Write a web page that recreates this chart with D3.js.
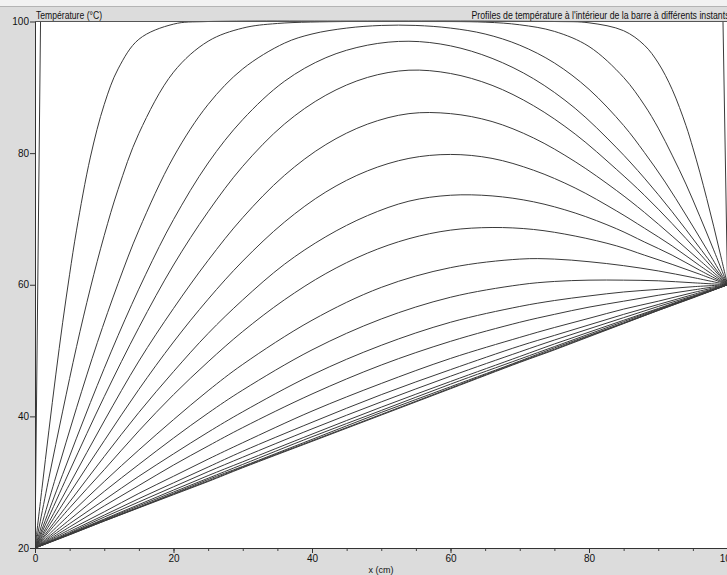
<!DOCTYPE html>
<html>
<head>
<meta charset="utf-8">
<script src="https://cdn.jsdelivr.net/npm/d3@7"></script>
<style>
  body { margin: 0; background: #dcdcdc; }
  svg { display: block; }
  text { font-family: "Liberation Sans", Arial, sans-serif; fill: #111; }
</style>
</head>
<body>
<svg id="chart"></svg>
<script>
const xTicks = [0, 20, 40, 60, 80, 100];
const xMinorTicks = d3.range(0, 101, 5);
const yTicks = [20, 40, 60, 80, 100];

// [x (cm), temperature (°C)], one array per instant
const profile00 = [[0, 20], [0.8, 100], [99.35, 100], [100, 60]];
const profile01 = [[0, 20], [1, 29.0], [2, 37.8], [3, 46.3], [4, 54.3], [5, 61.6], [6, 68.3], [8, 79.4], [10, 87.4], [12, 92.8], [15, 97.3], [20, 99.6], [25, 100], [75, 100], [80, 99.8], [85, 98.6], [88, 96.4], [90, 93.7], [92, 89.7], [94, 84.2], [95, 80.8], [96, 77.1], [97, 73.1], [98, 68.9], [99, 64.5], [100, 60]];
const profile02 = [[0, 20], [2, 30.6], [4, 40.8], [6, 50.6], [8, 59.5], [10, 67.5], [12, 74.5], [15, 83.0], [20, 92.3], [25, 97.0], [30, 99.0], [35, 99.7], [45, 100], [55, 100], [65, 99.9], [70, 99.5], [75, 98.5], [80, 96.2], [85, 91.5], [88, 87.3], [90, 83.8], [92, 79.7], [94, 75.3], [96, 70.4], [98, 65.3], [100, 60]];
const profile03 = [[0, 20], [3, 30.8], [6, 41.3], [9, 51.2], [12, 60.2], [15, 68.3], [20, 79.4], [25, 87.4], [30, 92.8], [36, 96.7], [40, 98.1], [45, 99.0], [50, 99.4], [55, 99.4], [60, 99.0], [65, 98.1], [70, 96.4], [75, 93.7], [80, 89.7], [85, 84.2], [88, 80.1], [91, 75.6], [94, 70.6], [97, 65.4], [100, 60]];
const profile04 = [[0, 20], [4, 31.2], [8, 42.1], [12, 52.3], [16, 61.6], [20, 69.9], [25, 78.5], [30, 85.1], [36, 90.9], [42, 94.5], [48, 96.4], [54, 97.0], [60, 96.3], [66, 94.4], [72, 91.3], [78, 86.8], [84, 80.8], [88, 76.2], [92, 71.1], [96, 65.6], [100, 60]];
const profile05 = [[0, 20], [5, 31.7], [10, 43.0], [15, 53.5], [20, 63.0], [25, 71.1], [30, 78.0], [36, 84.4], [42, 88.8], [48, 91.5], [54, 92.6], [60, 92.1], [66, 90.3], [72, 87.2], [78, 82.9], [84, 77.5], [88, 73.6], [92, 69.3], [96, 64.7], [100, 60]];
const profile06 = [[0, 20], [5, 29.7], [10, 39.3], [15, 48.4], [20, 56.4], [25, 63.7], [30, 70.2], [36, 76.6], [42, 81.3], [48, 84.4], [54, 86.0], [60, 86.0], [66, 84.8], [72, 82.3], [78, 78.7], [84, 74.3], [88, 71.0], [92, 67.4], [96, 63.7], [100, 60]];
const profile07 = [[0, 20], [5, 28.3], [10, 36.3], [15, 44.1], [20, 51.3], [25, 57.8], [30, 63.6], [36, 69.5], [42, 74.1], [48, 77.3], [54, 79.2], [60, 79.8], [66, 79.2], [72, 77.4], [78, 74.7], [84, 71.2], [88, 68.6], [92, 65.9], [96, 62.9], [100, 60]];
const profile08 = [[0, 20], [5, 27.0], [10, 33.9], [15, 40.6], [20, 46.8], [25, 52.6], [30, 57.7], [36, 63.1], [42, 67.3], [48, 70.5], [54, 72.7], [60, 73.6], [66, 73.5], [72, 72.6], [78, 70.9], [84, 68.5], [88, 66.5], [92, 64.5], [96, 62.2], [100, 60]];
const profile09 = [[0, 20], [5, 26.1], [10, 31.9], [15, 37.8], [20, 43.3], [25, 48.3], [30, 52.9], [36, 57.7], [42, 61.7], [48, 64.8], [54, 67.0], [60, 68.3], [66, 68.7], [72, 68.4], [78, 67.4], [84, 65.9], [88, 64.5], [92, 63.1], [96, 61.6], [100, 60]];

// later instants, read on a common set of x positions
const gridX = [0, 5, 10, 15, 20, 25, 30, 40, 50, 60, 70, 75, 80, 85, 90, 95, 100];
const profile10 = [20, 25.1, 30.1, 34.9, 39.5, 43.9, 47.9, 54.6, 59.6, 62.6, 63.9, 63.9, 63.5, 62.9, 62.1, 61.1, 60];
const profile11 = [20, 24.3, 28.6, 32.7, 36.7, 40.5, 44.0, 50.1, 54.8, 58.1, 60.0, 60.5, 60.7, 60.7, 60.6, 60.3, 60];
const profile12 = [20, 23.7, 27.3, 30.9, 34.3, 37.6, 40.7, 46.3, 50.8, 54.3, 56.7, 57.6, 58.3, 58.9, 59.3, 59.7, 60];
const profile13 = [20, 23.2, 26.4, 29.5, 32.6, 35.5, 38.3, 43.4, 47.8, 51.4, 54.3, 55.5, 56.6, 57.5, 58.4, 59.2, 60];
const profile14 = [20, 22.8, 25.5, 28.3, 30.9, 33.5, 36.0, 40.8, 45.0, 48.8, 52.0, 53.5, 54.9, 56.3, 57.5, 58.8, 60];
const profile15 = [20, 22.5, 25.0, 27.5, 29.9, 32.3, 34.7, 39.1, 43.3, 47.1, 50.7, 52.3, 53.9, 55.5, 57.0, 58.5, 60];
const profile16 = [20, 22.3, 24.7, 27.0, 29.3, 31.6, 33.8, 38.1, 42.2, 46.1, 49.8, 51.6, 53.3, 55.0, 56.7, 58.3, 60];
const profile17 = [20, 22.2, 24.4, 26.6, 28.8, 31.0, 33.1, 37.3, 41.4, 45.3, 49.1, 51.0, 52.8, 54.6, 56.4, 58.2, 60];
const profile18 = [20, 22.1, 24.3, 26.4, 28.5, 30.6, 32.7, 36.9, 40.9, 44.9, 48.7, 50.6, 52.5, 54.4, 56.3, 58.1, 60];
const profile19 = [20, 22.1, 24.2, 26.2, 28.3, 30.4, 32.4, 36.5, 40.6, 44.5, 48.4, 50.4, 52.3, 54.2, 56.2, 58.1, 60];
const profile20 = [20, 22.05, 24.1, 26.15, 28.2, 30.2, 32.3, 36.3, 40.3, 44.3, 48.3, 50.2, 52.2, 54.15, 56.1, 58.05, 60];
const profile21 = [20, 22.0, 24.1, 26.1, 28.1, 30.1, 32.2, 36.2, 40.2, 44.2, 48.2, 50.1, 52.1, 54.1, 56.1, 58.0, 60];

const smoothProfiles = [profile01, profile02, profile03, profile04, profile05,
  profile06, profile07, profile08, profile09]
  .concat([profile10, profile11, profile12, profile13, profile14, profile15,
    profile16, profile17, profile18, profile19, profile20, profile21]
    .map(vals => vals.map((t, i) => [gridX[i], t])));

const width = 727;
const height = 575;
const margin = { top: 21.5, right: 0, bottom: 27, left: 35 };

const svg = d3.select("#chart")
  .attr("width", width)
  .attr("height", height);

// window strip at top
svg.append("rect").attr("x", 0).attr("y", 0).attr("width", width).attr("height", 6).attr("fill", "#f2f2f2");
svg.append("line").attr("x1", 0).attr("x2", width).attr("y1", 6.5).attr("y2", 6.5).attr("stroke", "#b4b4b4");

const xScale = d3.scaleLinear()
  .domain([0, 100])
  .range([margin.left, 727.5]);

const yScale = d3.scaleLinear()
  .domain([20, 100])
  .range([height - margin.bottom, margin.top]);

svg.append("rect")
  .attr("x", margin.left)
  .attr("y", margin.top)
  .attr("width", width - margin.left)
  .attr("height", yScale(20) - margin.top)
  .attr("fill", "#fff");

svg.append("defs").append("clipPath")
  .attr("id", "clip")
  .append("rect")
  .attr("x", margin.left)
  .attr("y", margin.top - 1)
  .attr("width", width - margin.left)
  .attr("height", yScale(20) - margin.top + 1);

const line = d3.line()
  .x(d => xScale(d[0]))
  .y(d => yScale(d[1]))
  .curve(d3.curveCatmullRom.alpha(0.5));

const plot = svg.append("g").attr("clip-path", "url(#clip)");

plot.append("path")
  .datum(profile00)
  .attr("fill", "none")
  .attr("stroke", "#3a3a3a")
  .attr("d", d3.line().x(d => xScale(d[0])).y(d => yScale(d[1])));

plot.selectAll(".profile")
  .data(smoothProfiles)
  .join("path")
  .attr("class", "profile")
  .attr("fill", "none")
  .attr("stroke", "#3a3a3a")
  .attr("stroke-width", 1)
  .attr("d", line);

// top frame
svg.append("line")
  .attr("x1", margin.left).attr("x2", width)
  .attr("y1", margin.top).attr("y2", margin.top)
  .attr("stroke", "#555");

// minor x ticks
svg.append("g")
  .attr("transform", `translate(0,${yScale(20)})`)
  .call(d3.axisBottom(xScale).tickValues(xMinorTicks).tickSize(3).tickFormat(""))
  .call(g => g.select(".domain").remove())
  .call(g => g.selectAll("line").attr("stroke", "#444"));

svg.append("g")
  .attr("transform", `translate(0,${yScale(20)})`)
  .call(d3.axisBottom(xScale).tickValues(xTicks).tickSize(5).tickSizeOuter(0).tickPadding(2))
  .call(g => g.select(".domain").attr("stroke", "#333"))
  .call(g => g.selectAll("line").attr("stroke", "#333"))
  .call(g => g.selectAll("text").style("font-size", "10px").attr("fill", "#111"));

svg.append("g")
  .attr("transform", `translate(${margin.left},0)`)
  .call(d3.axisLeft(yScale).tickValues(yTicks).tickSize(5).tickSizeOuter(0).tickPadding(1))
  .call(g => g.select(".domain").attr("stroke", "#333"))
  .call(g => g.selectAll("line").attr("stroke", "#333"))
  .call(g => g.selectAll("text").style("font-size", "10px").attr("fill", "#111"));

svg.append("text")
  .attr("x", 36)
  .attr("y", 19)
  .attr("textLength", 66)
  .attr("lengthAdjust", "spacingAndGlyphs")
  .style("font-size", "10px")
  .text("Température (°C)");

svg.append("text")
  .attr("x", 471.5)
  .attr("y", 19)
  .attr("textLength", 258)
  .attr("lengthAdjust", "spacingAndGlyphs")
  .style("font-size", "10px")
  .text("Profiles de température à l'intérieur de la barre à différents instants");

svg.append("text")
  .attr("x", 381)
  .attr("y", 573)
  .attr("text-anchor", "middle")
  .style("font-size", "9px")
  .text("x (cm)");
</script>
</body>
</html>
